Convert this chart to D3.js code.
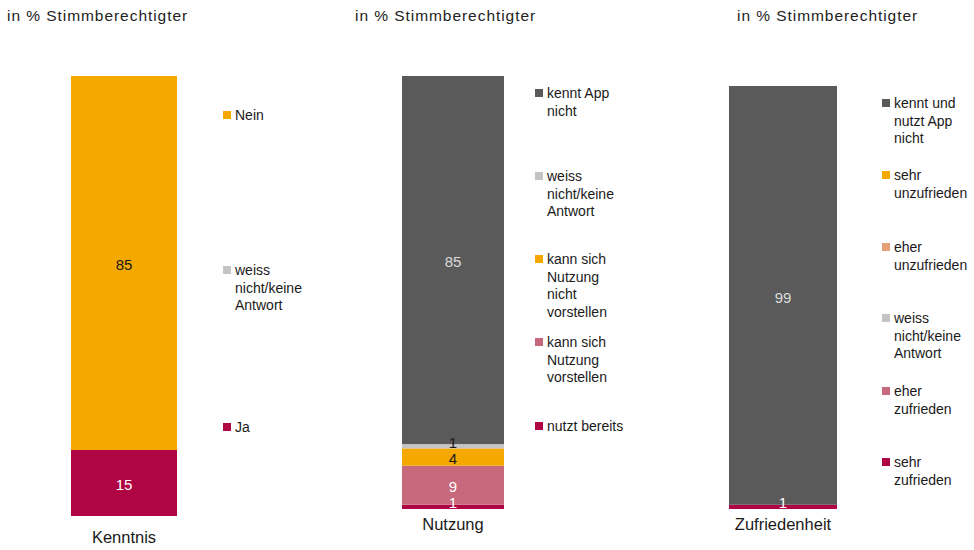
<!DOCTYPE html>
<html>
<head>
<meta charset="utf-8">
<script src="https://cdn.jsdelivr.net/npm/d3@7"></script>
<style>
  body { margin: 0; background: #fff; }
  text { font-family: "Liberation Sans", Arial, sans-serif; }
</style>
</head>
<body>
<svg id="chart" width="974" height="550"></svg>
<script>
// Panel categories (bar labels under each bar)
var panels = ["Kenntnis", "Nutzung", "Zufriedenheit"];

// Kenntnis: bottom to top
var kenntnisSeries = ["Ja", "weiss nicht/keine Antwort", "Nein"];
var kenntnisValues = [15, 0, 85];

// Nutzung: bottom to top
var nutzungSeries = ["nutzt bereits", "kann sich Nutzung vorstellen", "kann sich Nutzung nicht vorstellen", "weiss nicht/keine Antwort", "kennt App nicht"];
var nutzungValues = [1, 9, 4, 1, 85];

// Zufriedenheit: bottom to top
var zufriedenSeries = ["sehr zufrieden", "eher zufrieden", "weiss nicht/keine Antwort", "eher unzufrieden", "sehr unzufrieden", "kennt und nutzt App nicht"];
var zufriedenValues = [1, 0, 0, 0, 0, 99];

// legend text (top to bottom), split into lines
var kenntnisLegend = [["Nein"], ["weiss", "nicht/keine", "Antwort"], ["Ja"]];
var nutzungLegend = [["kennt App", "nicht"], ["weiss", "nicht/keine", "Antwort"], ["kann sich", "Nutzung", "nicht", "vorstellen"], ["kann sich", "Nutzung", "vorstellen"], ["nutzt bereits"]];
var zufriedenLegend = [["kennt und", "nutzt App", "nicht"], ["sehr", "unzufrieden"], ["eher", "unzufrieden"], ["weiss", "nicht/keine", "Antwort"], ["eher", "zufrieden"], ["sehr", "zufrieden"]];

var colours = {
  "Ja": "#b00545",
  "Nein": "#f5a800",
  "weiss nicht/keine Antwort": "#c4c4c4",
  "nutzt bereits": "#b00545",
  "kann sich Nutzung vorstellen": "#c8687d",
  "kann sich Nutzung nicht vorstellen": "#f5a800",
  "kennt App nicht": "#5a5a5a",
  "sehr zufrieden": "#b00545",
  "eher zufrieden": "#c8687d",
  "eher unzufrieden": "#e6a078",
  "sehr unzufrieden": "#f5a800",
  "kennt und nutzt App nicht": "#5a5a5a"
};
var labelColours = {
  "Ja": "#ffffff", "Nein": "#1a1a1a", "weiss nicht/keine Antwort": "#1a1a1a",
  "nutzt bereits": "#ffffff", "kann sich Nutzung vorstellen": "#ffffff",
  "kann sich Nutzung nicht vorstellen": "#1a1a1a", "kennt App nicht": "#dcdcdc",
  "sehr zufrieden": "#ffffff", "kennt und nutzt App nicht": "#dcdcdc"
};

var svg = d3.select("#chart");

// layout for each panel
var layout = [
  { title: 7, x0: 71, x1: 177, top: 76, bottom: 516, catY: 537, legX: 223, legY: [115, 270, 427],
    series: kenntnisSeries, values: kenntnisValues, legend: kenntnisLegend },
  { title: 355, x0: 402, x1: 504, top: 76, bottom: 509, catY: 524, legX: 535, legY: [93, 176, 259, 342, 426],
    series: nutzungSeries, values: nutzungValues, legend: nutzungLegend },
  { title: 737, x0: 729, x1: 837, top: 86, bottom: 509, catY: 524, legX: 882, legY: [103, 175, 247, 318, 391, 462],
    series: zufriedenSeries, values: zufriedenValues, legend: zufriedenLegend }
];

layout.forEach(function(p, pi) {
  // title
  svg.append("text")
    .attr("x", p.title).attr("y", 16)
    .attr("dy", "0.35em")
    .attr("font-size", 15.5)
    .attr("letter-spacing", "0.95px")
    .attr("fill", "#222")
    .text("in % Stimmberechtigter");

  var x = d3.scaleBand().domain([panels[pi]]).range([p.x0, p.x1]).padding(0);
  var y = d3.scaleLinear().domain([0, 100]).range([p.bottom, p.top]);

  // stack data
  var row = {};
  p.series.forEach(function(s, i) { row[s] = p.values[i]; });
  var stacked = d3.stack().keys(p.series)([row]);

  var g = svg.append("g");
  g.selectAll("rect")
    .data(stacked)
    .enter().append("rect")
    .attr("x", x(panels[pi]))
    .attr("width", x.bandwidth())
    .attr("y", function(d) { return y(d[0][1]); })
    .attr("height", function(d) { return y(d[0][0]) - y(d[0][1]); })
    .attr("fill", function(d) { return colours[d.key]; });

  // value labels, pushed apart from the bottom up so small segments stay readable
  var shown = stacked.filter(function(d) { return d[0][1] - d[0][0] > 0; });
  var prev = null;
  shown.forEach(function(d) {
    var ly = Math.min(y((d[0][0] + d[0][1]) / 2) + 2, p.bottom - 6);
    if (prev !== null && prev - ly < 16) ly = prev - 16;
    d.ly = ly;
    prev = ly;
  });
  g.selectAll(".val")
    .data(shown)
    .enter().append("text")
    .attr("class", "val")
    .attr("x", x(panels[pi]) + x.bandwidth() / 2)
    .attr("y", function(d) { return d.ly; })
    .attr("dy", "0.35em")
    .attr("text-anchor", "middle")
    .attr("font-size", 15)
    .attr("fill", function(d) { return labelColours[d.key] || "#1a1a1a"; })
    .text(function(d) { return d[0][1] - d[0][0]; });

  // category label
  svg.append("text")
    .attr("x", x(panels[pi]) + x.bandwidth() / 2)
    .attr("y", p.catY)
    .attr("dy", "0.35em")
    .attr("text-anchor", "middle")
    .attr("font-size", 16.5)
    .attr("fill", "#1a1a1a")
    .text(panels[pi]);

  // legend (top to bottom = reversed series)
  var legSeries = p.series.slice().reverse();
  legSeries.forEach(function(s, i) {
    var ly = p.legY[i];
    svg.append("rect")
      .attr("x", p.legX).attr("y", ly - 4)
      .attr("width", 8).attr("height", 8)
      .attr("fill", colours[s]);
    var t = svg.append("text")
      .attr("x", p.legX + 13).attr("y", ly)
      .attr("font-size", 14)
      .attr("fill", "#1a1a1a");
    p.legend[i].forEach(function(line, li) {
      t.append("tspan")
        .attr("x", p.legX + 12)
        .attr("y", ly + li * 17.7)
        .attr("dy", "0.35em")
        .text(line);
    });
  });
});
</script>
</body>
</html>
